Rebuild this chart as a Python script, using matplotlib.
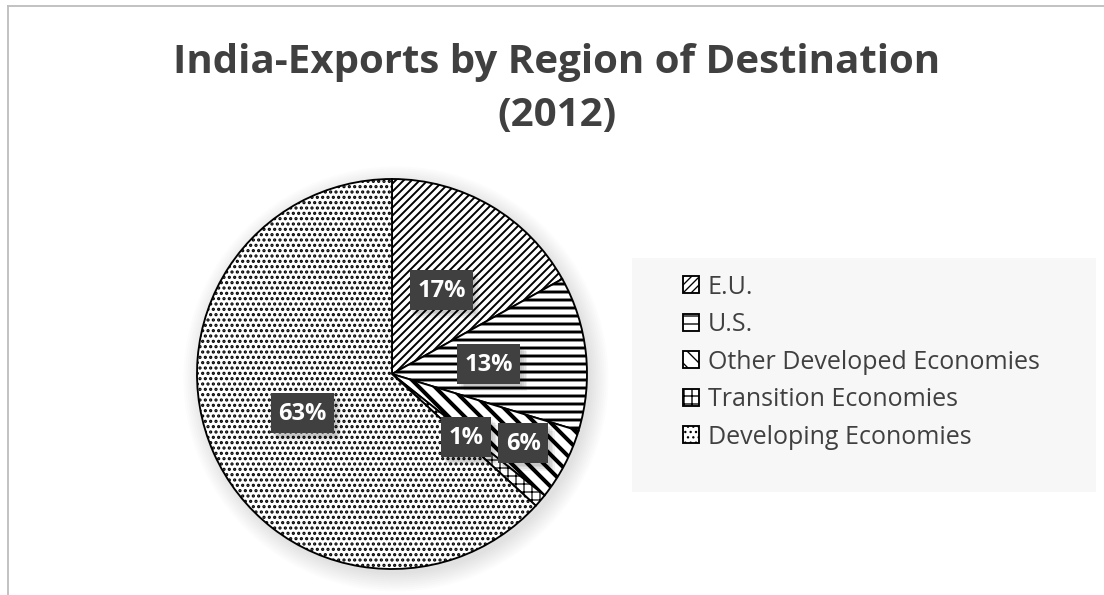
import matplotlib.pyplot as plt
import numpy as np
from matplotlib.patches import Circle, Rectangle
from matplotlib.lines import Line2D

plt.rcParams['font.family'] = ['Open Sans', 'DejaVu Sans']

# data
regions = ['E.U.', 'U.S.', 'Other Developed Economies', 'Transition Economies', 'Developing Economies']
shares = [16.9, 12.8, 6.0, 1.1, 63.2]
hatches = ['////', '--', '\\\\', '++', '...']
hatch_lw = [1.45, 2.2, 3.0, 0.9, 1.6]
label_dist = [0.5, 0.5, 0.76, 0.5, 0.5]

# 96 dpi keeps the hatch tile at 96 px, so dense hatches land on whole pixels
DPI = 96
W, H = 1104, 595
fs = 100 / DPI  # keeps font sizes as measured at 100 dpi
fig = plt.figure(figsize=(W / DPI, H / DPI), dpi=DPI)

# chart border (only top and left visible)
bx, by = 8 / W, 1 - 6 / H
fig.add_artist(Line2D([bx, 1], [by, by], color='#bfbfbf', lw=1.4, transform=fig.transFigure))
fig.add_artist(Line2D([bx, bx], [by, 0], color='#bfbfbf', lw=1.4, transform=fig.transFigure))

fig.text(557 / W, 1 - 43 / H, 'India-Exports by Region of Destination\n(2012)',
         ha='center', va='top', fontsize=29 * fs, fontweight='bold', color='#404040',
         linespacing=1.45)

# pie axes: center (392, 374), radius 195 px
cx, cy, r = 392, 374, 195
lim = 1.4
ax = fig.add_axes([(cx - r * lim) / W, (H - cy - r * lim) / H, 2 * r * lim / W, 2 * r * lim / H])

# soft shadow behind the pie
for k in range(10):
    ax.add_patch(Circle((0.02, -0.025), 1.0 + 0.01 * k, color='#000000', alpha=0.012, lw=0, zorder=0))

wedges, _ = ax.pie(shares, startangle=90, counterclock=False, radius=1,
                   colors=['white'] * len(shares),
                   wedgeprops=dict(edgecolor='black', linewidth=1.4))
for w, h, lw in zip(wedges, hatches, hatch_lw):
    w.set_hatch(h)
    w.set_zorder(2)
    try:
        w.set_hatch_linewidth(lw)
    except AttributeError:
        pass

# data label boxes, 40 px high, width follows the text
for w, val, d in zip(wedges, shares, label_dist):
    ang = np.deg2rad((w.theta1 + w.theta2) / 2)
    x, y = d * np.cos(ang), d * np.sin(ang)
    txt = f'{val:.0f}%'
    bw, bh = (24 + 13 * len(txt)) / r, 40 / r
    for k in range(4):
        ax.add_patch(Rectangle((x - bw / 2 + 0.01 + 0.008 * k, y - bh / 2 - 0.015 - 0.008 * k), bw, bh,
                               fc='#000000', ec='none', alpha=0.06, zorder=3))
    ax.add_patch(Rectangle((x - bw / 2, y - bh / 2), bw, bh, fc='#404040', ec='none', zorder=4))
    ax.text(x, y - 0.005, txt, ha='center', va='center', fontsize=17 * fs,
            fontweight='bold', color='white', zorder=5)

ax.set_xlim(-lim, lim)
ax.set_ylim(-lim, lim)
ax.set_aspect('equal')
ax.axis('off')

# legend panel
fig.add_artist(Rectangle((632 / W, 1 - 492 / H), (1096 - 632) / W, (492 - 258) / H,
                         transform=fig.transFigure, fc='#f7f7f7', ec='none', zorder=0))
fig.legend(wedges, regions, loc='upper left', bbox_to_anchor=(660 / W, 1 - 252 / H),
           frameon=False, fontsize=18 * fs, labelcolor='#404040', handlelength=0.65,
           handleheight=0.65, handletextpad=0.35, labelspacing=0.5)

fig.savefig('out.png', dpi=DPI)
